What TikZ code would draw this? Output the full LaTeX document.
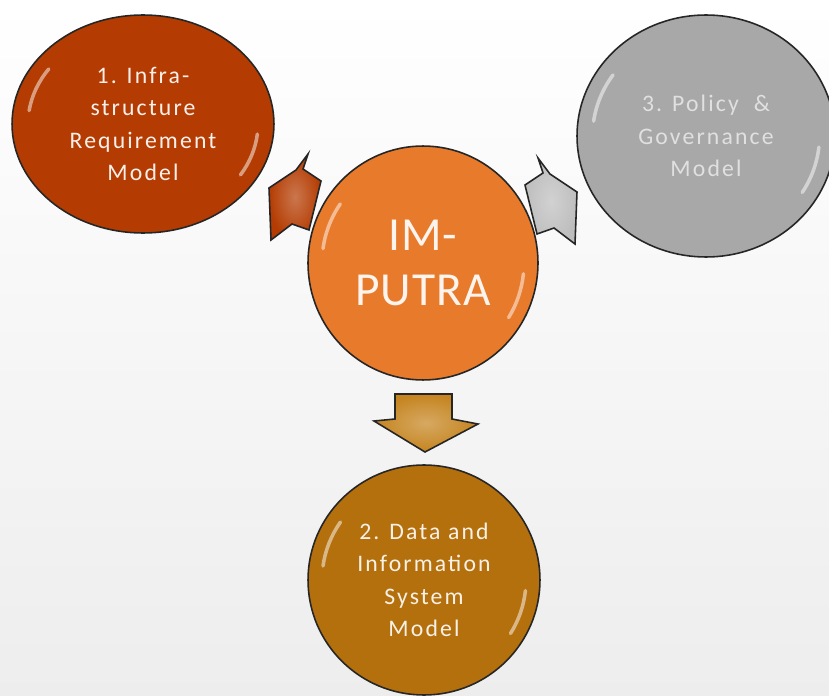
\documentclass[tikz,border=0pt]{standalone}
\usepackage{fontspec}
\setmainfont{Carlito}
\usepackage{tikz}
\usepackage{xcolor}
\usetikzlibrary{shapes.geometric}
\definecolor{Brique}{HTML}{B43C02}
\definecolor{Citrouille}{HTML}{E87A2C}
\definecolor{Bronze}{HTML}{B5700E}
\definecolor{Gris}{HTML}{A8A8A8}
\definecolor{GrisClair}{HTML}{BEBEBE}
\definecolor{Ocre}{HTML}{C5841F}
\tikzset{
Bulle/.style={
 ellipse,
 draw=black!85,
 line width=0.9pt,
 fill=#1,
 align=center,
 inner sep=0pt
 },
Petit/.style={
 font=\fontsize{13.5}{18.5}\selectfont\addfontfeatures{LetterSpace=9}
 },
Grand/.style={
 font=\fontsize{27}{31}\selectfont\addfontfeatures{LetterSpace=2}
 },
Eclat/.style={
 white,
 opacity=0.5,
 line width=2pt,
 line cap=round
 },
Fleche/.style={
 draw=black!85,
 line width=0.9pt,
 inner color=#1!70!white,
 outer color=#1
 }
}
\newcommand{\Reflet}[3]{
\draw[Eclat] ([shift={(145:#2 and #3)}]#1.center) arc[start angle=145,end angle=172,x radius=#2,y radius=#3];
\draw[Eclat] ([shift={(-32:#2 and #3)}]#1.center) arc[start angle=-32,end angle=-6,x radius=#2,y radius=#3];
}

\begin{document}
\begin{tikzpicture}[x=0.02cm,y=-0.02cm]
\useasboundingbox (0,0) rectangle (829,696);
\fill[top color=white,bottom color=black!7] (0,0) rectangle (829,696);
\node[Bulle=Brique,Petit,text=Brique!8!white,minimum width=5.24cm,minimum height=4.36cm] (infra) at (143,124) {1. Infra-\\structure\\Requirement\\Model};
\node[Bulle=Gris,Petit,text=black!12,minimum width=5.16cm,minimum height=4.84cm] (policy) at (706,136) {3. Policy~~\&\\Governance\\Model};
\node[Bulle=Citrouille,Grand,text=Citrouille!8!white,minimum width=4.6cm,minimum height=4.68cm] (imputra) at (423,263) {IM-\\PUTRA};
\node[Bulle=Bronze,Petit,text=Bronze!10!white,minimum width=4.64cm,minimum height=4.6cm] (data) at (424,580) {2. Data and\\Information\\System\\Model};
\Reflet{infra}{2.3cm}{1.92cm}
\Reflet{policy}{2.27cm}{2.13cm}
\Reflet{imputra}{2.02cm}{2.06cm}
\Reflet{data}{2.04cm}{2.02cm}
\draw[Fleche=Brique] (308,154) -- (303,169) -- (321,181) -- (309,230) -- (292,224) -- (271,240) -- (269,188) -- (296,170) -- cycle;
\draw[Fleche=GrisClair] (538,158) -- (543,173) -- (525,185) -- (537,234) -- (554,228) -- (575,244) -- (577,192) -- (550,174) -- cycle;
\draw[Fleche=Ocre] (395,394) -- (452,394) -- (452,419) -- (478,424) -- (425,452) -- (374,421) -- (395,419) -- cycle;
\end{tikzpicture}
\end{document}
